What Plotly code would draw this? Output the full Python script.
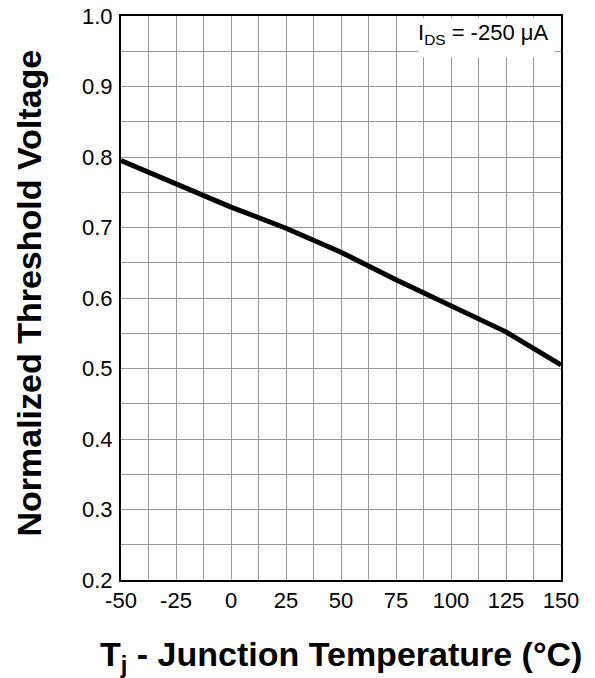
import plotly.graph_objects as go

temperature_c = [-50, -25, 0, 25, 50, 75, 100, 125, 150]
norm_vth = [0.795, 0.762, 0.729, 0.699, 0.665, 0.626, 0.589, 0.552, 0.505]

x_ticks = [-50, -25, 0, 25, 50, 75, 100, 125, 150]
y_ticks = [0.2, 0.3, 0.4, 0.5, 0.6, 0.7, 0.8, 0.9, 1.0]
y_tick_text = ["0.2", "0.3", "0.4", "0.5", "0.6", "0.7", "0.8", "0.9", "1.0"]

FONT = "Liberation Sans, Arial, sans-serif"

fig = go.Figure()
fig.add_trace(go.Scatter(x=temperature_c, y=norm_vth, mode="lines",
                         line=dict(color="black", width=5), showlegend=False))

grid = "#9a9a9a"
fig.update_layout(
    width=595, height=678,
    margin=dict(l=121, r=34, t=16, b=98, autoexpand=False),
    paper_bgcolor="white", plot_bgcolor="white",
    font=dict(family=FONT, color="black", size=22),
    xaxis=dict(range=[-50, 150], tickvals=x_ticks, ticktext=[str(v) for v in x_ticks],
               showgrid=True, gridcolor=grid, gridwidth=1, automargin=False,
               minor=dict(dtick=12.5, tick0=-50, showgrid=True, gridcolor=grid, gridwidth=1),
               showline=True, linecolor="black", linewidth=2, mirror=True,
               ticks="", zeroline=False, tickfont=dict(size=22), ticklabelstandoff=0),
    yaxis=dict(range=[0.2, 1.0], tickvals=y_ticks, ticktext=y_tick_text,
               showgrid=True, gridcolor=grid, gridwidth=1, automargin=False,
               minor=dict(dtick=0.05, tick0=0.2, showgrid=True, gridcolor=grid, gridwidth=1),
               showline=True, linecolor="black", linewidth=2, mirror=True,
               ticks="", zeroline=False, tickfont=dict(size=22), ticklabelstandoff=2),
    shapes=[dict(type="rect", xref="paper", yref="paper",
                 x0=0.675, x1=0.986, y0=0.927, y1=0.997,
                 fillcolor="white", line=dict(width=0), layer="above")],
    annotations=[
        dict(text="I<sub>DS</sub> = -250 μA", xref="paper", yref="paper",
             x=0.823, y=0.968, xanchor="center", yanchor="middle",
             showarrow=False, font=dict(size=22, family=FONT, color="black")),
        dict(text="<b>Normalized Threshold Voltage</b>", xref="paper", yref="paper",
             x=-0.209, y=0.508, xanchor="center", yanchor="middle", textangle=-90,
             showarrow=False, font=dict(size=34, family=FONT, color="black")),
        dict(text="<b>T<sub>j</sub> - Junction Temperature (°C)</b>", xref="paper", yref="paper",
             x=0.5, y=-0.1365, xanchor="center", yanchor="middle",
             showarrow=False, font=dict(size=34, family=FONT, color="black")),
    ],
)

fig.write_html("out.html", config={"displayModeBar": False})

with open("out.html", "r", encoding="utf-8") as f:
    html = f.read()
html = html.replace("<head>", "<head><style>html,body{margin:0;padding:0;overflow:hidden;}</style>", 1)
with open("out.html", "w", encoding="utf-8") as f:
    f.write(html)
